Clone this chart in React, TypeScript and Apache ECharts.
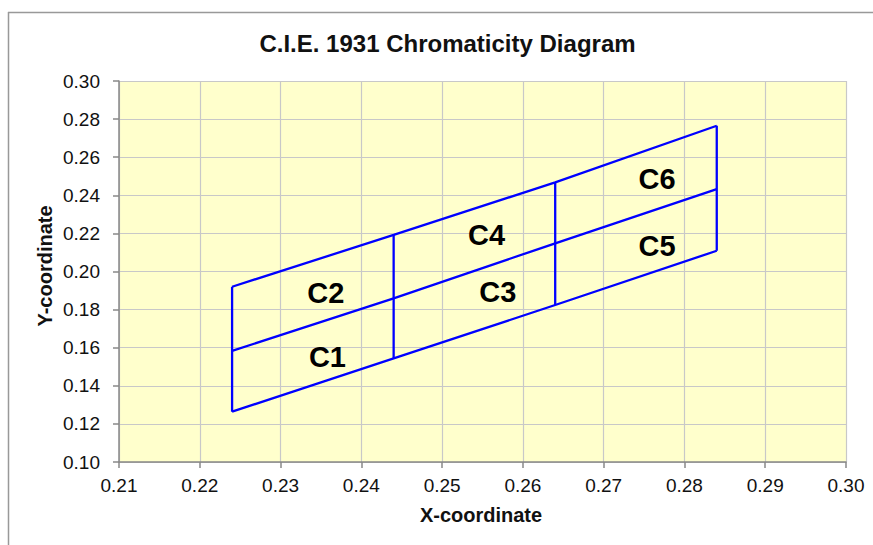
import React, { useEffect, useRef } from "react";
import * as echarts from "echarts";

const binX = [0.224, 0.244, 0.264, 0.284];
const bottomY = [0.1264, 0.1544, 0.1824, 0.2109];
const middleY = [0.1583, 0.1859, 0.2148, 0.2432];
const topY = [0.192, 0.2192, 0.2468, 0.2765];

const binNames = ["C1", "C2", "C3", "C4", "C5", "C6"];
const labelX = [0.2358, 0.2356, 0.2569, 0.2555, 0.2766, 0.2766];
const labelY = [0.1553, 0.1887, 0.1894, 0.2192, 0.2134, 0.2484];

const xTicks = { min: 0.21, max: 0.3, interval: 0.01 };
const yTicks = { min: 0.1, max: 0.3, interval: 0.02 };

const FONT = "'Liberation Sans', Arial, sans-serif";

export default function App() {
  const ref = useRef<HTMLDivElement>(null);
  useEffect(() => {
    if (!ref.current) return;
    const chart = echarts.init(ref.current, undefined, { renderer: "svg" });
    const blue = "#0000ff";
    const lineStyle = { color: blue, width: 2.3 };
    const polys: any[] = [];
    const mk = (data: number[][]) => ({
      type: "line",
      data,
      symbol: "none",
      lineStyle,
      itemStyle: { color: blue },
      silent: true,
      z: 3,
    });
    polys.push(mk(binX.map((x, i) => [x, bottomY[i]])));
    polys.push(mk(binX.map((x, i) => [x, middleY[i]])));
    polys.push(mk(binX.map((x, i) => [x, topY[i]])));
    binX.forEach((x, i) => {
      polys.push(mk([[x, bottomY[i]], [x, topY[i]]]));
    });
    chart.setOption({
      animation: false,
      backgroundColor: "#ffffff",
      textStyle: { fontFamily: FONT },
      grid: {
        left: 119,
        right: 27,
        top: 81,
        bottom: 83,
        show: true,
        backgroundColor: "#ffffcc",
        borderWidth: 0,
      },
      xAxis: {
        type: "value",
        min: xTicks.min,
        max: xTicks.max,
        interval: xTicks.interval,
        axisLine: { show: true, lineStyle: { color: "#888", width: 1.5 } },
        axisTick: { show: true, length: 6, lineStyle: { color: "#888", width: 1.5 } },
        splitLine: { show: true, lineStyle: { color: "#c8c8c8", width: 1.2 } },
        axisLabel: {
          color: "#111",
          fontSize: 19,
          fontFamily: FONT,
          margin: 14,
          formatter: (v: number) => v.toFixed(2),
        },
      },
      yAxis: {
        type: "value",
        min: yTicks.min,
        max: yTicks.max,
        interval: yTicks.interval,
        axisLine: { show: true, lineStyle: { color: "#888", width: 1.5 } },
        axisTick: { show: true, length: 6, lineStyle: { color: "#888", width: 1.5 } },
        splitLine: { show: true, lineStyle: { color: "#c8c8c8", width: 1.2 } },
        axisLabel: {
          color: "#111",
          fontSize: 19,
          fontFamily: FONT,
          margin: 19,
          formatter: (v: number) => v.toFixed(2),
        },
      },
      series: [
        ...polys,
        {
          type: "scatter",
          symbolSize: 0,
          silent: true,
          z: 4,
          itemStyle: { opacity: 1, color: "transparent" },
          data: binNames.map((n, i) => ({ name: n, value: [labelX[i], labelY[i]] })),
          label: {
            show: true,
            position: "inside",
            formatter: (p: any) => p.name,
            fontSize: 29,
            fontWeight: "bold",
            color: "#000",
            opacity: 1,
            textBorderWidth: 0,
            fontFamily: FONT,
          },
        },
      ],
      graphic: [
        {
          type: "line",
          shape: { x1: 8, y1: 12.5, x2: 873, y2: 12.5 },
          style: { stroke: "#999", lineWidth: 1.5 },
          silent: true,
        },
        {
          type: "line",
          shape: { x1: 8.5, y1: 12, x2: 8.5, y2: 545 },
          style: { stroke: "#999", lineWidth: 1.5 },
          silent: true,
        },
        {
          type: "text",
          x: 447.5,
          y: 43.5,
          style: {
            text: "C.I.E. 1931 Chromaticity Diagram",
            fontSize: 24,
            fontWeight: "bold",
            fontFamily: FONT,
            fill: "#111",
            align: "center",
            verticalAlign: "middle",
          },
        },
        {
          type: "text",
          x: 481,
          y: 515,
          style: {
            text: "X-coordinate",
            fontSize: 20,
            fontWeight: "bold",
            fontFamily: FONT,
            fill: "#111",
            align: "center",
            verticalAlign: "middle",
          },
        },
        {
          type: "text",
          x: 44.5,
          y: 266,
          rotation: Math.PI / 2,
          style: {
            text: "Y-coordinate",
            fontSize: 20,
            fontWeight: "bold",
            fontFamily: FONT,
            fill: "#111",
            align: "center",
            verticalAlign: "middle",
          },
        },
      ],
    });
    return () => chart.dispose();
  }, []);
  return (
    <div
      ref={ref}
      style={{ position: "fixed", left: 0, top: 0, width: 873, height: 545 }}
    />
  );
}
